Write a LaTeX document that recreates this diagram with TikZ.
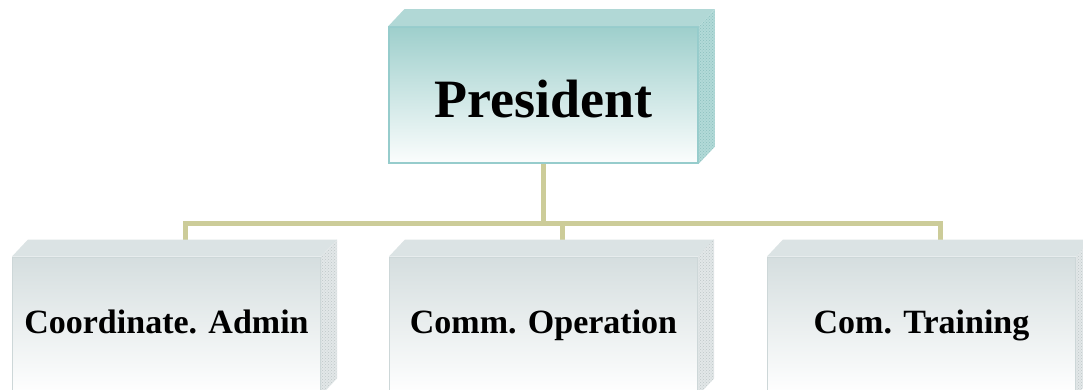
\documentclass[tikz,border=0pt]{standalone}
\usepackage{fontspec}
\setmainfont{Liberation Serif}
\usetikzlibrary{patterns,calc}
\definecolor{khaki}{RGB}{204,204,153}
\definecolor{tealtop}{RGB}{158,207,204}
\definecolor{tealedge}{RGB}{150,204,204}
\definecolor{tealside}{RGB}{178,218,216}
\definecolor{tealgrid}{RGB}{140,192,190}
\definecolor{graytop}{RGB}{213,222,223}
\definecolor{grayside}{RGB}{226,231,232}
\definecolor{graygrid}{RGB}{190,199,200}
\definecolor{grayedge}{RGB}{205,215,216}
\tikzset{
  presface/.style={rectangle, minimum width=309pt, minimum height=136pt, inner sep=0pt,
    top color=tealtop, bottom color=white!96!tealtop, draw=tealedge, line width=1.5pt,
    font=\bfseries\fontsize{54}{60}\selectfont, text height=46pt, text depth=0pt},
  unitface/.style={rectangle, minimum width=308pt, minimum height=138pt, inner sep=0pt,
    top color=graytop, bottom color=white, draw=grayedge, line width=1pt,
    font=\bfseries\fontsize{34}{40}\selectfont, text height=21pt, text depth=7pt},
  link/.style={draw=khaki, line width=5pt},
}
\newcommand{\threed}[3]{% node, top colour, side colour
  \fill[#2] (#1.north west) -- ++(16,-17) -- ($(#1.north east)+(16,-17)$) -- (#1.north east) -- cycle;
  \fill[#3] (#1.north east) -- ++(16,-17) -- ($(#1.south east)+(16,-17)$) -- (#1.south east) -- cycle;
}
\begin{document}
\begin{tikzpicture}[x=1pt,y=-1pt]
\useasboundingbox (0,0) rectangle (1083,390);
\clip (0,0) rectangle (1083,390);
\fill[white] (0,0) rectangle (1083,390);
\coordinate (bus) at (0,223);
% boxes
\node[presface] (pres) at (543.5,95) {President};
\node[unitface] (u1) at (166.5,326) {Coordinate. Admin};
\node[unitface] (u2) at (543.5,326) {Comm. Operation};
\node[unitface] (u3) at (921.5,326) {Com. Training};
% connectors
\coordinate (t1) at ($(u1.north)+(19,-17)$);
\coordinate (t2) at ($(u2.north)+(19,-17)$);
\coordinate (t3) at ($(u3.north)+(19,-17)$);
\draw[link] (pres.south) -- (pres.south |- bus);
\draw[link] (t1) -- (t1 |- bus) -- (t3 |- bus) -- (t3);
\draw[link] (t2 |- bus) -- (t2);
% 3D faces
\threed{pres}{tealtop!80!white}{tealside}
\fill[pattern=crosshatch dots, pattern color=tealgrid] (pres.north east) -- ++(16,-17) -- ($(pres.south east)+(16,-17)$) -- (pres.south east) -- cycle;
\foreach \u in {u1,u2,u3}{
  \threed{\u}{graytop!85!white}{grayside}
  \fill[pattern=crosshatch dots, pattern color=graygrid] (\u.north east) -- ++(16,-17) -- ($(\u.south east)+(16,-17)$) -- (\u.south east) -- cycle;
}
\end{tikzpicture}
\end{document}
